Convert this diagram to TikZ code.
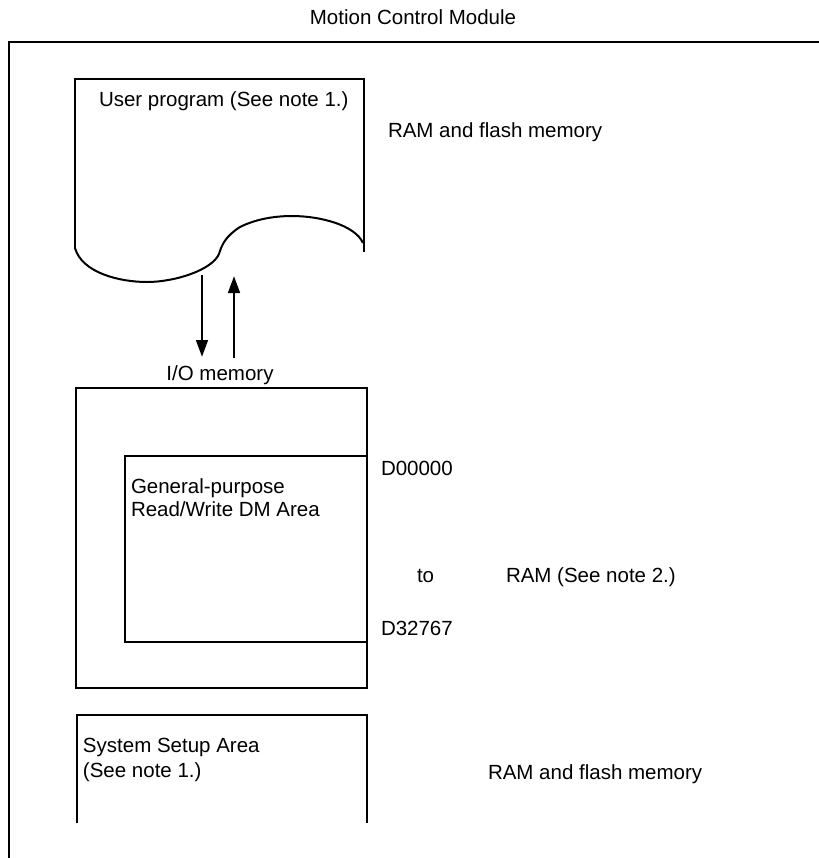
\documentclass[tikz,border=0pt]{standalone}
\usepackage{fontspec}
\setmainfont{Liberation Sans}
\usetikzlibrary{arrows.meta}
\begin{document}
\begin{tikzpicture}[x=0.5pt,y=-0.5pt,
  line width=1pt, line join=miter,
  lbl/.style={inner sep=0pt, anchor=base west, font=\fontsize{10.25}{12.3}\selectfont},
  arr/.style={line width=1.35pt, -{Triangle[length=8.5pt,width=5.8pt]}}]
\useasboundingbox (0,0) rectangle (819,858);
% outer frame
\draw (9,858) -- (9,42) -- (819,42);
% user program document shape
\draw (75,249) -- (75,79) -- (364,79) -- (364,252);
\draw (75,248) .. controls (82,273) and (120,282) .. (147,282)
  .. controls (175,282) and (212,270) .. (219,254)
  .. controls (222,244) and (226,236) .. (240,227)
  .. controls (258,218) and (278,216) .. (292,216)
  .. controls (320,216) and (355,225) .. (363,243);
% I/O memory boxes
\draw (76,388) rectangle (367,688);
\draw (125,456) rectangle (367,642);
% system setup box
\draw (77,823) -- (77,715) -- (367,715) -- (367,823);
% arrows
\coordinate (d1) at (202,275);
\coordinate (d2) at (202,357);
\coordinate (u1) at (234,358);
\coordinate (u2) at (234,276);
\draw[arr] (d1) -- (d2);
\draw[arr] (u1) -- (u2);
% texts
\node[lbl, anchor=base] (title) at (413,24) {Motion Control Module};
\node[lbl] (user) at (98,106) {User program (See note 1.)};
\node[lbl] (ramtop) at (387,137) {RAM and flash memory};
\node[lbl, anchor=base] (io) at (220,380) {I/O memory};
\node[lbl] (gp1) at (130,493) {General-purpose};
\node[lbl] (gp2) at (130,516) {Read/Write DM Area};
\node[lbl] (d0) at (380,475) {D00000};
\node[lbl] (to) at (416,582) {to};
\node[lbl] (ram2) at (505,582) {RAM (See note 2.)};
\node[lbl] (d3) at (380,635) {D32767};
\node[lbl] (ss1) at (82,752) {System Setup Area};
\node[lbl] (ss2) at (82,777) {(See note 1.)};
\node[lbl] (ramlow) at (487,779) {RAM and flash memory};
\end{tikzpicture}
\end{document}
